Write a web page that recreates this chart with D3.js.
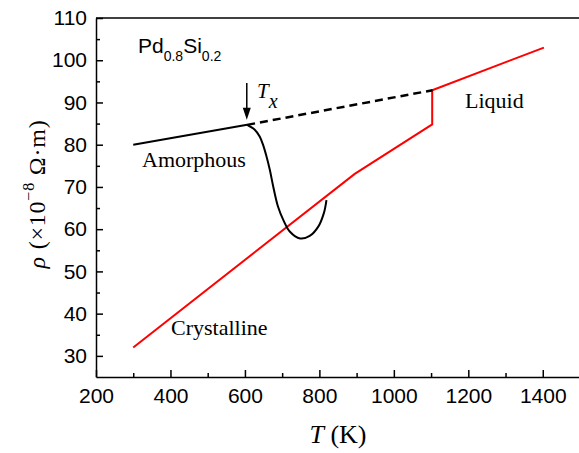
<!DOCTYPE html>
<html>
<head>
<meta charset="utf-8">
<script src="https://cdn.jsdelivr.net/npm/d3@7"></script>
<style>
	body { margin: 0; background: #fff; }
	svg { display: block; }
	.tick text { font-family: "Liberation Sans", Arial, sans-serif; font-size: 21px; fill: #000; }
	.serif { font-family: "Liberation Serif", "Times New Roman", serif; }
</style>
</head>
<body>
<div id="vis"></div>
<script>
const width = 579;
const height = 453;
const margin = {top: 18, left: 96, bottom: 76, right: -1};

// amorphous branch (solid black, below Tx)
const amorphT = [300, 606];
const amorphRho = [80, 84.7];

// extrapolated amorphous -> liquid (dashed)
const dashT = [606, 1104];
const dashRho = [84.7, 92.9];

// crystallisation dip
const dipT = [606, 627, 640, 649, 658, 667, 676, 689, 703, 721, 748, 774, 797, 812, 819];
const dipRho = [84.7, 83.5, 81.9, 79.9, 77.2, 74.0, 70.1, 65.3, 62.2, 59.4, 57.8, 58.4, 60.6, 63.8, 66.9];

// crystalline + liquid (red)
const crystT = [300, 895, 1103, 1103, 1403];
const crystRho = [32, 73.1, 84.8, 92.9, 103];

const xMajor = [200, 400, 600, 800, 1000, 1200, 1400];
const xMinor = [300, 500, 700, 900, 1100, 1300];
const yMajor = [30, 40, 50, 60, 70, 80, 90, 100, 110];
const yMinor = [35, 45, 55, 65, 75, 85, 95, 105];

// Tx arrow (T, rho top, rho tip)
const arrowT = 605;
const arrowRho = [94.6, 85.9];

const svg = d3.select("#vis")
	.append("svg")
	.attr("width", width)
	.attr("height", height);

const x = d3.scaleLinear()
	.domain([200, 1500])
	.range([margin.left, width - margin.right]);

const y = d3.scaleLinear()
	.domain([25, 110])
	.range([height - margin.bottom, margin.top]);

svg.append("g")
	.attr("transform", `translate(0, ${height - margin.bottom})`)
	.call(d3.axisBottom(x).tickValues(xMajor).tickSize(-7).tickSizeOuter(0).tickPadding(11).tickFormat(d3.format("d")));

svg.append("g")
	.attr("transform", `translate(0, ${height - margin.bottom})`)
	.call(d3.axisBottom(x).tickValues(xMinor).tickSize(-4).tickSizeOuter(0).tickFormat(""))
	.select(".domain").remove();

svg.append("g")
	.attr("transform", `translate(${margin.left}, 0)`)
	.call(d3.axisLeft(y).tickValues(yMajor).tickSize(-7).tickSizeOuter(0).tickPadding(9));

svg.append("g")
	.attr("transform", `translate(${margin.left}, 0)`)
	.call(d3.axisLeft(y).tickValues(yMinor).tickSize(-4).tickSizeOuter(0).tickFormat(""))
	.select(".domain").remove();

svg.selectAll(".domain, .tick line")
	.attr("stroke", "#000")
	.attr("stroke-width", 1.5);

// top frame
svg.append("line")
	.attr("x1", x(200)).attr("x2", x(1500))
	.attr("y1", y(110)).attr("y2", y(110))
	.attr("stroke", "#000")
	.attr("stroke-width", 1.5);

const line = d3.line()
	.x(d => x(d[0]))
	.y(d => y(d[1]));

const zip = (a, b) => a.map((v, i) => [v, b[i]]);

svg.append("path")
	.attr("d", line(zip(crystT, crystRho)))
	.attr("fill", "none")
	.attr("stroke", "#ff0000")
	.attr("stroke-width", 2);

svg.append("path")
	.attr("d", line(zip(amorphT, amorphRho)))
	.attr("fill", "none")
	.attr("stroke", "#000")
	.attr("stroke-width", 2);

svg.append("path")
	.attr("d", line(zip(dashT, dashRho)))
	.attr("fill", "none")
	.attr("stroke", "#000")
	.attr("stroke-width", 2.5)
	.attr("stroke-dasharray", "8,5");

svg.append("path")
	.attr("d", line.curve(d3.curveCatmullRom)(zip(dipT, dipRho)))
	.attr("fill", "none")
	.attr("stroke", "#000")
	.attr("stroke-width", 2);

// Tx arrow
const ax = x(arrowT);
svg.append("line")
	.attr("x1", ax).attr("x2", ax)
	.attr("y1", y(arrowRho[0])).attr("y2", y(arrowRho[1]) - 6)
	.attr("stroke", "#000")
	.attr("stroke-width", 1.5);
svg.append("path")
	.attr("d", `M${ax - 4},${y(arrowRho[1]) - 12}L${ax + 4},${y(arrowRho[1]) - 12}L${ax},${y(arrowRho[1])}Z`)
	.attr("fill", "#000");

const tx = svg.append("text")
	.attr("class", "serif")
	.attr("x", 257)
	.attr("y", 98)
	.style("font-style", "italic")
	.style("font-size", "21px");
tx.append("tspan").text("T");
tx.append("tspan").attr("dy", 10).style("font-size", "20px").text("x");

// composition
const comp = svg.append("text")
	.attr("x", 138)
	.attr("y", 53)
	.style("font-family", "'Liberation Sans', Arial, sans-serif")
	.style("font-size", "21px");
comp.append("tspan").text("Pd");
comp.append("tspan").attr("dy", 8).style("font-size", "14px").text("0.8");
comp.append("tspan").attr("dy", -8).text("Si");
comp.append("tspan").attr("dy", 8).style("font-size", "14px").text("0.2");

const labels = [
	{text: "Amorphous", x: 142, y: 167},
	{text: "Liquid", x: 465, y: 108},
	{text: "Crystalline", x: 171, y: 335}
];
svg.selectAll("text.lbl")
	.data(labels)
	.enter()
	.append("text")
	.attr("class", "lbl serif")
	.attr("x", d => d.x)
	.attr("y", d => d.y)
	.style("font-size", "22px")
	.text(d => d.text);

// axis titles
const xt = svg.append("text")
	.attr("class", "serif")
	.attr("x", (x(200) + x(1500)) / 2)
	.attr("y", 443)
	.attr("text-anchor", "middle")
	.style("font-size", "26px");
xt.append("tspan").style("font-style", "italic").text("T");
xt.append("tspan").text(" (K)");

const yt = svg.append("text")
	.attr("class", "serif")
	.attr("transform", `translate(45, 194) rotate(-90)`)
	.attr("text-anchor", "middle")
	.style("font-size", "24px")
	.style("letter-spacing", "0.8px");
yt.append("tspan").style("font-style", "italic").text("ρ");
yt.append("tspan").text(" (×10");
yt.append("tspan").attr("dy", -11).style("font-size", "16px").text("−8");
yt.append("tspan").attr("dy", 11).text(" Ω·m)");
</script>
</body>
</html>
